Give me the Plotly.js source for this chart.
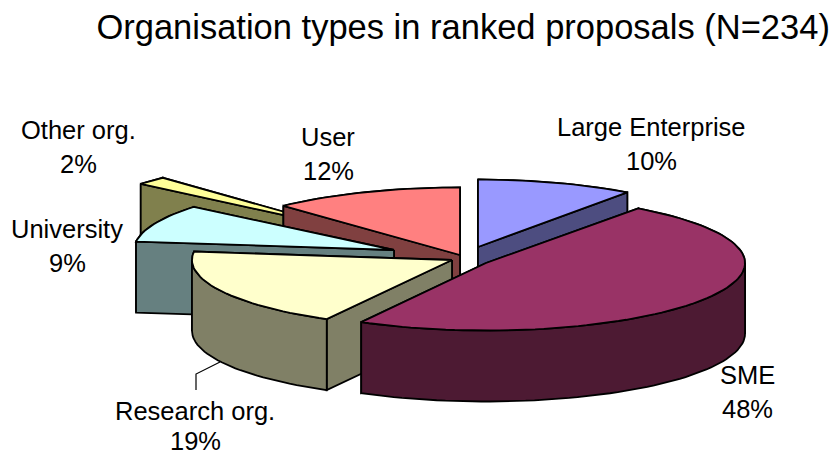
<!DOCTYPE html>
<html>
<head>
<meta charset="utf-8">
<script src="https://cdn.plot.ly/plotly-3.0.1.min.js"></script>
<style>html,body{margin:0;padding:0;background:#fff}</style>
</head>
<body>
<div id="chart" style="width:833px;height:456px"></div>
<script>
// Data, clockwise from 12 o'clock
const categories = ["Large Enterprise", "SME", "Research org.", "University", "Other org.", "User"];
const shares = [10, 48, 19, 9, 2, 12];

// Styles
const topColors = ["#9999FF", "#993366", "#FFFFCC", "#CCFFFF", "#FFFF99", "#FF8080"];
const sideColors = ["#4D4D80", "#4D1A33", "#808066", "#668080", "#80804D", "#804040"];

// Exploded-wedge geometry, in pixels of the picture
const apexX = [478, 486, 452, 394, 338, 460];
const apexY = [247, 263, 260, 250, 227, 255];
const radiiX = [254, 259, 260, 260, 256, 258];
const radiusY = 67.5, depth = 71;
const drawOrder = [4, 5, 0, 3, 2, 1];
const labelX = [651, 747, 195, 67, 78, 328];
const nameY = [127, 375, 411, 229, 130, 137];
const pctY = [161, 409, 441, 263, 164, 171];

const traces = [];
function poly(xs, ys, fill) {
  traces.push({type: "scatter", mode: "lines", x: xs.concat(xs[0]), y: ys.concat(ys[0]),
    fill: "toself", fillcolor: fill, hoverinfo: "skip", showlegend: false,
    line: {color: "#000", width: 1.8, shape: "linear"}});
}
function rim(i, deg) {
  const a = deg * Math.PI / 180;
  return [apexX[i] + radiiX[i] * Math.sin(a), apexY[i] - radiusY * Math.cos(a)];
}
function wall(i, from, to) {
  if (to - from < 0.01) return;
  const top = [], n = Math.max(2, Math.ceil((to - from) / 2));
  for (let k = 0; k <= n; k++) top.push(rim(i, from + (to - from) * k / n));
  poly(top.map(p => p[0]).concat(top.slice().reverse().map(p => p[0])),
       top.map(p => p[1]).concat(top.slice().reverse().map(p => p[1] + depth)), sideColors[i]);
}
function face(i, deg) {
  const p = rim(i, deg), ax = apexX[i], ay = apexY[i];
  poly([ax, p[0], p[0], ax], [ay, p[1], p[1] + depth, ay + depth], sideColors[i]);
}

const total = shares.reduce((s, v) => s + v, 0);
const starts = [];
shares.reduce((acc, v, i) => { starts[i] = acc; return acc + v; }, 0);

drawOrder.forEach(i => {
  const a0 = starts[i] / total * 360, a1 = (starts[i] + shares[i]) / total * 360;
  // far part of the outer wall
  wall(i, a0, Math.min(a1, 90));
  wall(i, Math.max(a0, 270), a1);
  // radial faces, the one further back first
  [a0, a1].sort((p, q) => rim(i, p)[1] - rim(i, q)[1]).forEach(d => face(i, d));
  // near part of the outer wall
  if (a1 > 90 && a0 < 270) wall(i, Math.max(a0, 90), Math.min(a1, 270));
  // top surface
  const xs = [apexX[i]], ys = [apexY[i]];
  const n = Math.max(2, Math.ceil((a1 - a0) / 2));
  for (let k = 0; k <= n; k++) {
    const p = rim(i, a0 + (a1 - a0) * k / n);
    xs.push(p[0]); ys.push(p[1]);
  }
  poly(xs, ys, topColors[i]);
});

// Leader line of the Research org. label
traces.push({type: "scatter", mode: "lines", x: [220, 196, 196], y: [362, 374, 390],
  hoverinfo: "skip", showlegend: false, line: {color: "#000", width: 1.2}});

const font = {family: "Liberation Sans, Arial, sans-serif", size: 25.5, color: "#000"};
const annotations = [];
categories.forEach((c, i) => {
  annotations.push({x: labelX[i], y: nameY[i], xref: "x", yref: "y", text: c, showarrow: false,
    xanchor: "center", yanchor: "middle", borderpad: 0, font: font});
  annotations.push({x: labelX[i], y: pctY[i], xref: "x", yref: "y", text: Math.round(shares[i] / total * 100) + "%",
    showarrow: false, xanchor: "center", yanchor: "middle", borderpad: 0, font: font});
});

Plotly.newPlot("chart", traces, {
  width: 833, height: 456,
  margin: {l: 0, r: 0, t: 0, b: 0},
  paper_bgcolor: "#fff", plot_bgcolor: "#fff",
  title: {text: "Organisation types in ranked proposals (N=234)",
    font: {family: "Liberation Sans, Arial, sans-serif", size: 34.5, color: "#000"},
    x: 0.556, xref: "paper", xanchor: "center", y: 0.94, yanchor: "middle"},
  xaxis: {range: [0, 833], visible: false, fixedrange: true},
  yaxis: {range: [456, 0], visible: false, fixedrange: true},
  annotations: annotations,
  showlegend: false
}, {displayModeBar: false, staticPlot: true});
</script>
</body>
</html>
